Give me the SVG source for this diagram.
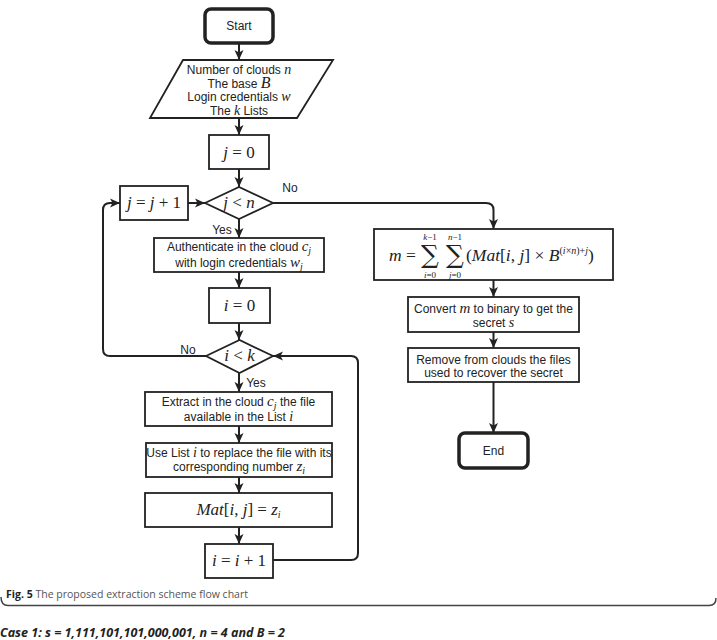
<svg xmlns="http://www.w3.org/2000/svg" width="717" height="640" viewBox="0 0 717 640">
<style>
.b{fill:#fff;stroke:#222;stroke-width:1.8}
.t{stroke:#222;stroke-width:3.5;fill:#fff}
.c{fill:none;stroke:#222;stroke-width:2}
.s{font-family:"Liberation Sans",Arial,sans-serif;font-size:12px;fill:#222;text-anchor:middle}
.m{font-family:"Liberation Serif","DejaVu Serif",serif;font-size:17px;fill:#222;text-anchor:middle}
.ms{font-family:"Liberation Serif","DejaVu Serif",serif;font-size:17.5px;fill:#222;text-anchor:start}
.i{font-family:"Liberation Serif","DejaVu Serif",serif;font-style:italic}
.sub{font-size:10px}
.lim{font-family:"Liberation Serif","DejaVu Serif",serif;font-size:9px;fill:#222;text-anchor:middle}
.sig{font-family:"DejaVu Serif",serif;font-size:25px;fill:#222;text-anchor:middle}
</style>
<defs>
<marker id="a" markerUnits="userSpaceOnUse" markerWidth="10" markerHeight="10" refX="10" refY="5" orient="auto">
<path d="M0,0.5 L10,5 L0,9.5 L2.5,5 z" fill="#222"/>
</marker>
</defs>
<rect width="717" height="640" fill="#fff"/>

<g id="connectors">
<path class="c" d="M239,43 L239,60" marker-end="url(#a)"/>
<path class="c" d="M239,118 L239,135" marker-end="url(#a)"/>
<path class="c" d="M239,169 L239,187" marker-end="url(#a)"/>
<path class="c" d="M188,203 L205,203" marker-end="url(#a)"/>
<path class="c" d="M273,203 L486,203 Q493.5,203 493.5,210 L493.5,229" marker-end="url(#a)"/>
<path class="c" d="M239,219 L239,238" marker-end="url(#a)"/>
<path class="c" d="M239,272 L239,288" marker-end="url(#a)"/>
<path class="c" d="M239,323 L239,340" marker-end="url(#a)"/>
<path class="c" d="M206,356 L110,356 Q103,356 103,349 L103,210 Q103,203 110,203 L120,203" marker-end="url(#a)"/>
<path class="c" d="M239,373 L239,392" marker-end="url(#a)"/>
<path class="c" d="M239,426 L239,443" marker-end="url(#a)"/>
<path class="c" d="M239,477 L239,493" marker-end="url(#a)"/>
<path class="c" d="M239,527 L239,544" marker-end="url(#a)"/>
<path class="c" d="M273,560 L351,560 Q358,560 358,553 L358,363 Q358,356 351,356 L273,356" marker-end="url(#a)"/>
<path class="c" d="M493.5,280 L493.5,297" marker-end="url(#a)"/>
<path class="c" d="M493.5,332 L493.5,348" marker-end="url(#a)"/>
<path class="c" d="M493.5,382 L493.5,433" marker-end="url(#a)"/>
<text class="s" x="290" y="192">No</text>
<text class="s" x="222" y="234">Yes</text>
<text class="s" x="188" y="354">No</text>
<text class="s" x="256" y="387">Yes</text>
</g>

<g id="start">
<rect class="t" x="205" y="9" width="68" height="34" rx="6"/>
<text class="s" x="239" y="30">Start</text>
</g>

<g id="input">
<polygon class="b" points="183,60 333,60 297,118 150,118"/>
<text class="s" x="239" y="74">Number of clouds <tspan class="i" font-size="14">n</tspan></text>
<text class="s" x="239" y="87.5">The base <tspan class="i" font-size="16">B</tspan></text>
<text class="s" x="239" y="101">Login credentials <tspan class="i" font-size="14">w</tspan></text>
<text class="s" x="239" y="115">The <tspan class="i" font-size="14">k</tspan> Lists</text>
</g>

<g id="j0">
<rect class="b" x="209" y="135" width="60" height="34"/>
<text class="m" x="239" y="158"><tspan class="i">j</tspan> = 0</text>
</g>

<g id="jlt">
<polygon class="b" points="205,203 239,187 273,203 239,219"/>
<text class="m" x="239" y="208"><tspan class="i">j</tspan> &lt; <tspan class="i">n</tspan></text>
</g>

<g id="jinc">
<rect class="b" x="120" y="186" width="68" height="34"/>
<text class="m" x="154" y="208"><tspan class="i">j</tspan> = <tspan class="i">j</tspan> + 1</text>
</g>

<g id="auth">
<rect class="b" x="154" y="238" width="170" height="34"/>
<text class="s" x="239" y="251">Authenticate in the cloud <tspan class="i" font-size="15">c</tspan><tspan class="i sub" dy="3">j</tspan></text>
<text class="s" x="239" y="267">with login credentials <tspan class="i" font-size="15">w</tspan><tspan class="i sub" dy="3">j</tspan></text>
</g>

<g id="i0">
<rect class="b" x="209" y="288" width="61" height="35"/>
<text class="m" x="239.5" y="311"><tspan class="i">i</tspan> = 0</text>
</g>

<g id="ilt">
<polygon class="b" points="206,356 239.5,340 273,356 239.5,373"/>
<text class="m" x="239.5" y="361"><tspan class="i">i</tspan> &lt; <tspan class="i">k</tspan></text>
</g>

<g id="extract">
<rect class="b" x="145" y="392" width="187" height="34"/>
<text class="s" x="238.5" y="406">Extract in the cloud <tspan class="i" font-size="15">c</tspan><tspan class="i sub" dy="3">j</tspan><tspan dy="-3"> the file</tspan></text>
<text class="s" x="238.5" y="421">available in the List <tspan class="i" font-size="14">i</tspan></text>
</g>

<g id="uselist">
<rect class="b" x="146" y="443" width="186" height="34"/>
<text class="s" x="239" y="457">Use List <tspan class="i" font-size="14">i</tspan> to replace the file with its</text>
<text class="s" x="239" y="471">corresponding number <tspan class="i" font-size="15">z</tspan><tspan class="i sub" dy="3">i</tspan></text>
</g>

<g id="mat">
<rect class="b" x="145" y="493" width="187" height="34"/>
<text class="m" x="238.5" y="515"><tspan class="i">Mat</tspan>[<tspan class="i">i</tspan>, <tspan class="i">j</tspan>] = <tspan class="i">z</tspan><tspan class="i sub" dy="3">i</tspan></text>
</g>

<g id="iinc">
<rect class="b" x="205" y="544" width="68" height="34"/>
<text class="m" x="239" y="566"><tspan class="i">i</tspan> = <tspan class="i">i</tspan> + 1</text>
</g>

<g id="formula">
<rect class="b" x="374" y="229" width="239" height="51"/>
<text class="ms" x="389" y="261"><tspan class="i">m</tspan> =</text>
<text class="sig" x="430" y="263">∑</text>
<text class="lim" x="430" y="240"><tspan class="i">k</tspan>−1</text>
<text class="lim" x="430" y="278"><tspan class="i">i</tspan>=0</text>
<text class="sig" x="455" y="263">∑</text>
<text class="lim" x="455" y="240"><tspan class="i">n</tspan>−1</text>
<text class="lim" x="455" y="278"><tspan class="i">j</tspan>=0</text>
<text class="ms" x="466" y="261">(<tspan class="i">Mat</tspan>[<tspan class="i">i</tspan>, <tspan class="i">j</tspan>] × <tspan class="i">B</tspan><tspan font-size="10" dy="-7">(<tspan class="i">i</tspan>×<tspan class="i">n</tspan>)+<tspan class="i">j</tspan></tspan><tspan dy="7">)</tspan></text>
</g>

<g id="convert">
<rect class="b" x="408" y="297" width="171" height="35"/>
<text class="s" x="493.5" y="313">Convert <tspan class="i" font-size="15">m</tspan> to binary to get the</text>
<text class="s" x="493.5" y="327">secret <tspan class="i" font-size="14">s</tspan></text>
</g>

<g id="remove">
<rect class="b" x="408" y="348" width="171" height="34"/>
<text class="s" x="493.5" y="364">Remove from clouds the files</text>
<text class="s" x="493.5" y="377">used to recover the secret</text>
</g>

<g id="end">
<rect class="t" x="459" y="433" width="69" height="35" rx="6"/>
<text class="s" x="493.5" y="455">End</text>
</g>

<g id="caption">
<path d="M1,597 Q1,605.5 8,605.5 L709,605.5 Q716,605.5 716,598" fill="none" stroke="#444" stroke-width="1.5"/>
<text x="6" y="598" font-family="'Open Sans',sans-serif" font-size="11" fill="#555" textLength="242" lengthAdjust="spacingAndGlyphs"><tspan font-weight="bold" fill="#222">Fig. 5</tspan> The proposed extraction scheme flow chart</text>
<text x="0" y="637" font-family="'Open Sans',sans-serif" font-size="13" font-weight="bold" font-style="italic" fill="#222" textLength="285" lengthAdjust="spacingAndGlyphs">Case 1: s = 1,111,101,101,000,001, n = 4 and B = 2</text>
</g>
</svg>
